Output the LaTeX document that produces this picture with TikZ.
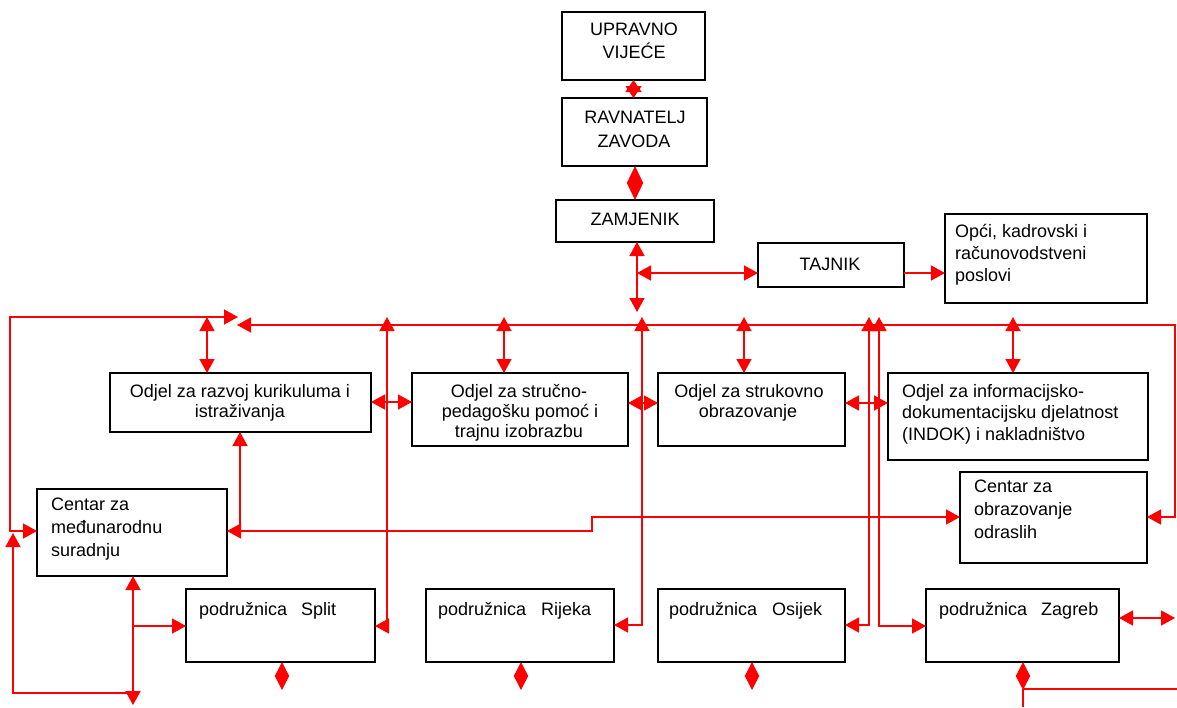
\documentclass[tikz,border=0pt]{standalone}
\usepackage{fontspec}
\setmainfont{Liberation Sans}
\usetikzlibrary{arrows.meta}
\begin{document}
\begin{tikzpicture}[x=1pt,y=-1pt,
  box/.style={draw=black, line width=1.5pt, inner sep=0pt, outer sep=0pt, anchor=north west},
  txt/.style={font=\fontsize{18}{22}\selectfont, inner sep=0pt, anchor=base},
  txtl/.style={txt, anchor=base west},
  rl/.style={draw=red, line width=1.4pt},
  >={Triangle[length=14pt,width=15pt]},
  dia/.style={rl, {Triangle[length=14pt,width=14pt]}-{Triangle[length=14pt,width=14pt]}},
  diab/.style={rl, {Triangle[length=17pt,width=16pt]}-{Triangle[length=17pt,width=16pt]}},
  hour/.style={rl, {Triangle[length=12pt,width=16pt]}-{Triangle[length=12pt,width=16pt]}}
]
\useasboundingbox[fill=white] (0,0) rectangle (1177,707);

% ---------- boxes ----------
\node[box, minimum width=143pt, minimum height=68pt] (upr) at (562,12) {};
\node[box, minimum width=145pt, minimum height=68pt] (rav) at (562,98) {};
\node[box, minimum width=158pt, minimum height=42pt] (zam) at (556,200) {};
\node[box, minimum width=146pt, minimum height=44pt] (taj) at (758,243) {};
\node[box, minimum width=202pt, minimum height=89pt] (opc) at (945,214) {};
\node[box, minimum width=261pt, minimum height=59pt] (raz) at (110,373) {};
\node[box, minimum width=216pt, minimum height=73pt] (str) at (412,373) {};
\node[box, minimum width=187pt, minimum height=73pt] (stk) at (658,373) {};
\node[box, minimum width=260pt, minimum height=87pt] (ind) at (888,373) {};
\node[box, minimum width=187pt, minimum height=91pt] (odr) at (960,472) {};
\node[box, minimum width=190pt, minimum height=87pt] (cm) at (37,489) {};
\node[box, minimum width=189pt, minimum height=73pt] (spl) at (186,589) {};
\node[box, minimum width=188pt, minimum height=73pt] (rij) at (426,589) {};
\node[box, minimum width=187pt, minimum height=73pt] (osi) at (658,589) {};
\node[box, minimum width=193pt, minimum height=73pt] (zag) at (926,589) {};

% ---------- texts ----------
\node[txt] (t-upr1) at (634,35) {UPRAVNO};
\node[txt] (t-upr2) at (634,58) {VIJEĆE};
\node[txt] (t-rav1) at (635,123) {RAVNATELJ};
\node[txt] (t-rav2) at (634,147) {ZAVODA};
\node[txt] (t-zam) at (635,225) {ZAMJENIK};
\node[txt] (t-taj) at (830,270) {TAJNIK};
\node[txtl] (t-opc1) at (955,237) {Opći, kadrovski i};
\node[txtl] (t-opc2) at (955,259) {računovodstveni};
\node[txtl] (t-opc3) at (955,281) {poslovi};
\node[txt] (t-raz1) at (240,397) {Odjel za razvoj kurikuluma i};
\node[txt] (t-raz2) at (240,417) {istraživanja};
\node[txt] (t-str1) at (519,397) {Odjel za stručno-};
\node[txt] (t-str2) at (520,417) {pedagošku pomoć i};
\node[txt] (t-str3) at (519,437) {trajnu izobrazbu};
\node[txt] (t-stk1) at (749,397) {Odjel za strukovno};
\node[txt] (t-stk2) at (748,417) {obrazovanje};
\node[txtl] (t-ind1) at (902,397) {Odjel za informacijsko-};
\node[txtl] (t-ind2) at (902,418) {dokumentacijsku djelatnost};
\node[txtl] (t-ind3) at (902,440) {(INDOK) i nakladništvo};
\node[txtl] (t-odr1) at (974,492) {Centar za};
\node[txtl] (t-odr2) at (974,515) {obrazovanje};
\node[txtl] (t-odr3) at (974,538) {odraslih};
\node[txtl] (t-cm1) at (51,510) {Centar za};
\node[txtl] (t-cm2) at (51,533) {međunarodnu};
\node[txtl] (t-cm3) at (51,556) {suradnju};
\node[txtl] (t-spl) at (199,615) {podružnica\hspace{14pt}Split};
\node[txtl] (t-rij) at (438,615) {podružnica\hspace{15pt}Rijeka};
\node[txtl] (t-osi) at (669,615) {podružnica\hspace{15pt}Osijek};
\node[txtl] (t-zag) at (939,615) {podružnica\hspace{14pt}Zagreb};

% ---------- named points ----------
\coordinate (tj) at (637,273);
\coordinate (zb) at (637,312);
\coordinate (busL) at (237,325);
\coordinate (busR) at (1175,325);
\coordinate (busD) at (1175,517);
\coordinate (loopT) at (238,317);
\coordinate (loopTL) at (10,317);
\coordinate (loopBL) at (10,531);
\coordinate (razT) at (207,317);
\coordinate (s504) at (504,317);
\coordinate (s744) at (744,317);
\coordinate (s1013) at (1013,317);
\coordinate (v387t) at (387,317);
\coordinate (v387b) at (387,626);
\coordinate (v642t) at (642,317);
\coordinate (v642b) at (642,625);
\coordinate (v869t) at (869,317);
\coordinate (v869b) at (869,625);
\coordinate (v879t) at (879,317);
\coordinate (v879b) at (879,626);
\coordinate (h402) at (0,402);
\coordinate (h403) at (0,403);
\coordinate (r240) at (240,531);
\coordinate (st1) at (592,531);
\coordinate (st2) at (592,517);
\coordinate (cmb) at (133,705);
\coordinate (cmj) at (133,626);
\coordinate (lp1) at (13,533);
\coordinate (lp2) at (13,693);
\coordinate (lp3) at (133,693);
\coordinate (d282) at (282,690);
\coordinate (d521) at (521,690);
\coordinate (d752) at (752,690);
\coordinate (d1023) at (1023,690);
\coordinate (zj) at (1023,689);
\coordinate (zdown) at (1023,707);
\coordinate (zright) at (1177,689);
\coordinate (zr) at (1175,618);

% ---------- connectors ----------
\draw[hour] (upr.south) -- (upr.south |- rav.north);
\draw[diab] (zam.north |- rav.south) -- (zam.north);
\draw[rl,<->] (zam.south -| tj) -- (zb);
\draw[rl,<->] (tj) -- (tj -| taj.west);
\draw[rl,->] (taj.east |- tj) -- (opc.west |- tj);

\draw[rl,<->] (busL) -- (busR) -- (busD) -- (busD -| odr.east);
\draw[rl,<->] (cm.west |- loopBL) -- (loopBL) -- (loopTL) -- (loopT);
\draw[rl,<->] (razT) -- (razT |- raz.north);
\draw[rl,<->] (s504) -- (s504 |- str.north);
\draw[rl,<->] (s744) -- (s744 |- stk.north);
\draw[rl,<->] (s1013) -- (s1013 |- ind.north);

\draw[rl,<->] (v387t) -- (v387b) -- (v387b -| spl.east);
\draw[rl,<->] (v642t) -- (v642b) -- (v642b -| rij.east);
\draw[rl,<->] (v869t) -- (v869b) -- (v869b -| osi.east);
\draw[rl,<->] (v879t) -- (v879b) -- (v879b -| zag.west);

\draw[rl,<->] (raz.east |- h402) -- (str.west |- h402);
\draw[rl,<->] (str.east |- h403) -- (stk.west |- h403);
\draw[rl,<->] (stk.east |- h403) -- (ind.west |- h403);

\draw[rl,<-] (raz.south -| r240) -- (r240);
\draw[rl,<->] (cm.east |- r240) -- (st1) -- (st2) -- (st2 -| odr.west);

\draw[rl,<->] (cm.south -| cmb) -- (cmb);
\draw[rl,->] (cmj) -- (cmj -| spl.west);
\draw[rl,->] (lp3) -- (lp2) -- (lp1);

\draw[dia] (spl.south -| d282) -- (d282);
\draw[dia] (rij.south -| d521) -- (d521);
\draw[dia] (osi.south -| d752) -- (d752);
\draw[rl] (zj) -- (zdown);
\draw[rl] (zj) -- (zright);
\draw[dia] (zag.south -| d1023) -- (d1023);
\draw[rl,<->] (zag.east |- zr) -- (zr);
\end{tikzpicture}
\end{document}
